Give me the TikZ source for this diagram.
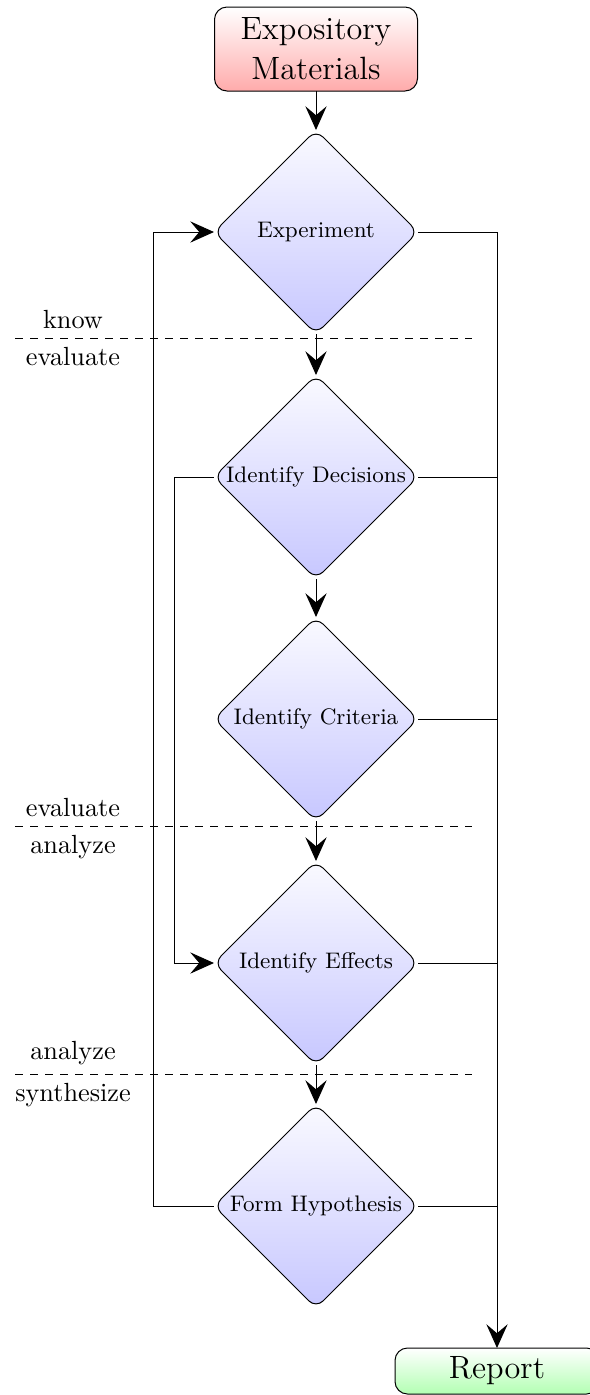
\documentclass[tikz,border=0pt]{standalone}
\usetikzlibrary{shapes.geometric,arrows.meta}
\begin{document}
\begin{tikzpicture}[x=0.4pt,y=-0.4pt,
  line width=0.4pt,
  arr/.style={-{Stealth[length=9.5pt,width=8.5pt,inset=3.6pt]}},
  dia/.style={diamond, draw, rounded corners=4pt, minimum width=81.6pt, minimum height=81.6pt, inner sep=0pt, outer sep=0pt, top color=blue!2, bottom color=blue!22},
  dtext/.style={font=\small, inner sep=0pt},
  termbox/.style={draw, rounded corners=5pt, inner sep=0pt, outer sep=0pt, font=\fontsize{12.9}{16}\selectfont, align=center},
  lvl/.style={font=\fontsize{10.5}{12}\selectfont},
  sep/.style={dashed}
]
\useasboundingbox (0,0) rectangle (590,1395);
\clip (0,0) rectangle (590,1395);

% terminals
\node[termbox, top color=white, bottom color=red!33, minimum width=81.2pt, minimum height=33.6pt] (src) at (316,49) {Expository\\Materials};
\node[termbox, top color=white, bottom color=green!30, minimum width=81.6pt, minimum height=18.4pt, anchor=north] (rep) at (497,1348) {Report};

% decisions
\node[dia] (d1) at (316,232) {};
\node[dtext] (t1) at (d1.center) {Experiment};
\node[dia] (d2) at (316,477) {};
\node[dtext] (t2) at (d2.center) {Identify Decisions};
\node[dia] (d3) at (316,719) {};
\node[dtext] (t3) at (d3.center) {Identify Criteria};
\node[dia] (d4) at (316,963) {};
\node[dtext] (t4) at (d4.center) {Identify Effects};
\node[dia] (d5) at (316,1206) {};
\node[dtext] (t5) at (d5.center) {Form Hypothesis};

% separators
\coordinate (s1a) at (15,338);  \coordinate (s1b) at (472,338);
\coordinate (s2a) at (15,826);  \coordinate (s2b) at (472,826);
\coordinate (s3a) at (15,1074); \coordinate (s3b) at (472,1074);
\draw[sep] (s1a) -- (s1b);
\draw[sep] (s2a) -- (s2b);
\draw[sep] (s3a) -- (s3b);
\node[lvl, above] (l1a) at (73,338) {know};
\node[lvl, below] (l1b) at (73,338) {evaluate};
\node[lvl, above] (l2a) at (73,826) {evaluate};
\node[lvl, below] (l2b) at (73,826) {analyze};
\node[lvl, above] (l3a) at (73,1074) {analyze};
\node[lvl, below] (l3b) at (73,1074) {synthesize};

% main flow
\draw[arr] (src.south) -- (d1.north);
\draw[arr] (d1.south) -- (d2.north);
\draw[arr] (d2.south) -- (d3.north);
\draw[arr] (d3.south) -- (d4.north);
\draw[arr] (d4.south) -- (d5.north);

% right bus to report
\draw[arr] (d1.east) -| (rep.north);
\draw (d2.east) -- (d2.east -| rep.north);
\draw (d3.east) -- (d3.east -| rep.north);
\draw (d4.east) -- (d4.east -| rep.north);
\draw (d5.east) -- (d5.east -| rep.north);

% feedback loops
\coordinate (lo) at (153,0);
\coordinate (li) at (174,0);
\draw[arr] (d5.west) -- (d5.west -| lo) |- (d1.west);
\draw[arr] (d2.west) -- (d2.west -| li) |- (d4.west);
\end{tikzpicture}
\end{document}
